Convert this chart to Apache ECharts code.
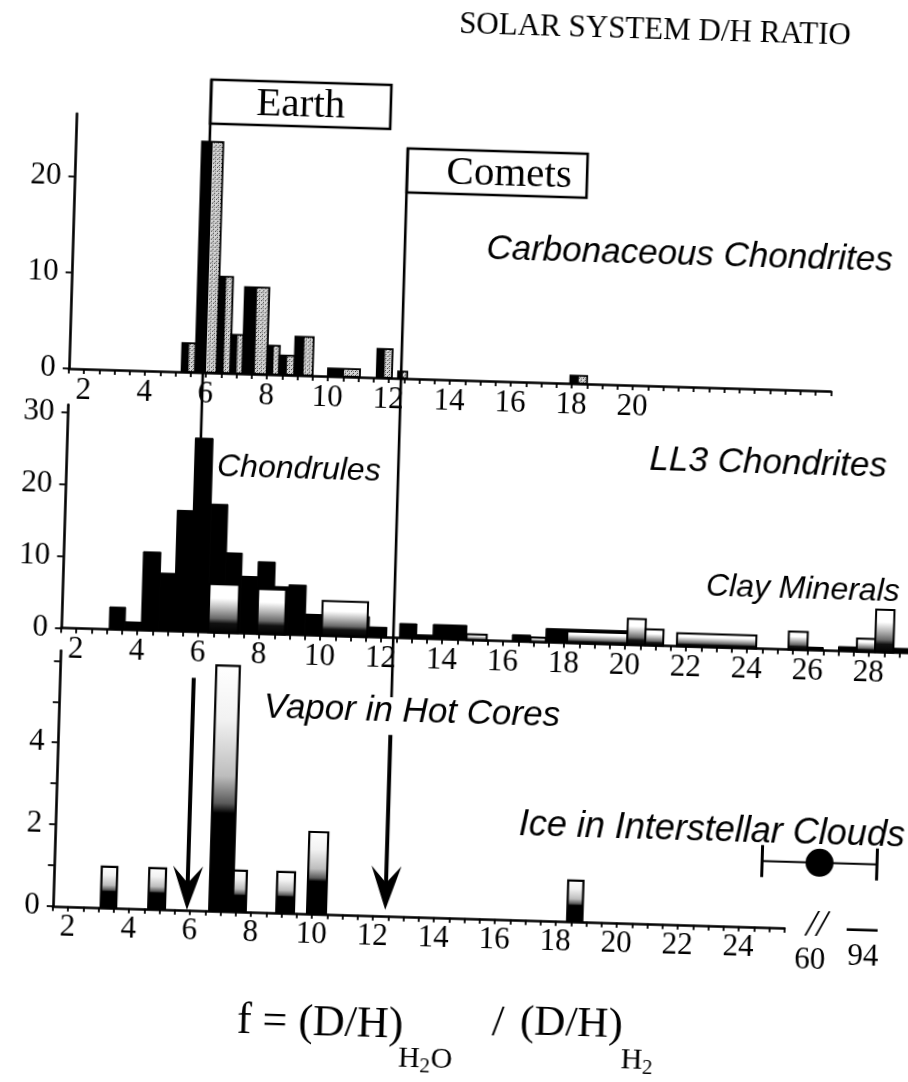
<!DOCTYPE html>
<html>
<head>
<meta charset="utf-8">
<title>Solar System D/H Ratio</title>
<script src="https://cdn.jsdelivr.net/npm/echarts@6/dist/echarts.min.js"></script>
<style>
  html, body { margin: 0; padding: 0; background: #fff; width: 908px; height: 1082px; overflow: hidden; }
  /* the drawing is slightly tilted, so the canvas is larger than the window and rotated about its centre */
  #chart { position: absolute; left: -30px; top: -30px; width: 968px; height: 1142px;
           transform: rotate(1.7deg); transform-origin: 50% 50%; }
</style>
</head>
<body>
<div id="chart"></div>
<script>
// ---------------- data: f = (D/H)H2O / (D/H)H2 ----------------
const earthF = 5.9;
const cometF = 12.4;

// Carbonaceous chondrites: bin start, bin end, count
const ccStart = [5.2, 5.65, 6.35, 6.8, 7.2, 8.0, 8.4, 8.9, 10.0, 11.6, 12.3, 17.95];
const ccEnd   = [5.65, 6.35, 6.8, 7.2, 8.0, 8.4, 8.9, 9.5, 11.05, 12.1, 12.6, 18.5];
const ccCount = [3, 24, 10, 4, 9, 3, 2, 4, 0.8, 3, 0.7, 0.8];

// LL3 chondrites: chondrules
const chStart = [3.08, 3.6, 4.13, 4.7, 5.2, 5.72, 6.3, 6.85, 7.37, 7.9, 8.46, 8.93, 9.5, 10.07, 11.6, 12.6, 13.16, 13.7, 16.3, 17.4, 25.98, 27.0, 28.8];
const chEnd   = [3.6, 4.13, 4.7, 5.2, 5.72, 6.3, 6.85, 7.37, 7.9, 8.46, 8.93, 9.5, 10.07, 11.6, 12.18, 13.16, 13.7, 14.8, 16.9, 20.1, 26.5, 27.6, 29.3];
const chCount = [3.1, 1.1, 10.9, 8.0, 16.8, 26.9, 17.8, 11.1, 7.9, 10.0, 6.6, 6.9, 2.9, 2.8, 1.4, 2.0, 0.5, 2.0, 0.9, 1.9, 0.4, 0.6, 0.6];

// LL3 chondrites: clay minerals
const clayStart = [6.33, 7.93, 10.05, 14.8, 16.9, 18.1, 20.07, 20.66, 21.7, 25.36, 27.6, 28.2];
const clayEnd   = [7.3, 8.84, 11.54, 15.46, 17.4, 20.07, 20.66, 21.25, 24.3, 25.98, 28.2, 28.8];
const clayCount = [6.7, 6.2, 4.8, 0.8, 0.6, 1.6, 3.6, 2.2, 1.8, 2.5, 1.8, 5.9];

// Vapor in hot cores
const vapStart = [3.07, 4.63, 6.63, 7.4, 8.83, 9.84, 18.37];
const vapEnd   = [3.58, 5.18, 7.4, 7.83, 9.41, 10.46, 18.87];
const vapCount = [1, 1, 6, 1, 1, 2, 1];

// Ice in interstellar clouds: range of f (broken part of the axis)
const iceLow = 60;
const iceHigh = 94;
const iceMid = 77;

// tick labels
const ccXLabels  = [2, 4, 6, 8, 10, 12, 14, 16, 18, 20];
const ll3XLabels = [2, 4, 6, 8, 10, 12, 14, 16, 18, 20, 22, 24, 26, 28];
const vapXLabels = [2, 4, 6, 8, 10, 12, 14, 16, 18, 20, 22, 24];
const ccYLabels  = [0, 10, 20];
const ll3YLabels = [0, 10, 20, 30];
const vapYTicks  = [0, 1, 2, 3, 4, 5, 6];
const vapYLabels = [0, 2, 4];
const breakLabels = ['60', '94'];

// ---------------- styling helpers ----------------
const SERIF = '"Liberation Serif","Times New Roman","DejaVu Serif",serif';
const SANS = '"Liberation Sans",Arial,"DejaVu Sans",sans-serif';
const TICK_FONT = 31;

const stipple = (() => {
  const c = document.createElement('canvas');
  c.width = 4; c.height = 4;
  const g = c.getContext('2d');
  g.fillStyle = '#d4d4d4'; g.fillRect(0, 0, 4, 4);
  g.fillStyle = '#3a3a3a'; g.fillRect(0, 0, 1, 1); g.fillRect(2, 2, 1, 1);
  g.fillStyle = '#8a8a8a'; g.fillRect(2, 0, 1, 1); g.fillRect(1, 3, 1, 1);
  return { image: c, repeat: 'repeat' };
})();

const clayFill = new echarts.graphic.LinearGradient(0, 0, 0, 1, [
  { offset: 0, color: '#ffffff' }, { offset: 0.3, color: '#ffffff' },
  { offset: 0.5, color: '#b8b8b8' }, { offset: 0.7, color: '#6a6a6a' },
  { offset: 0.8, color: '#111111' }, { offset: 1, color: '#000000' }
]);
const vapFill = new echarts.graphic.LinearGradient(0, 0, 0, 1, [
  { offset: 0, color: '#ffffff' }, { offset: 0.22, color: '#f2f2f2' },
  { offset: 0.45, color: '#bdbdbd' }, { offset: 0.56, color: '#5a5a5a' },
  { offset: 0.6, color: '#000000' }, { offset: 1, color: '#000000' }
]);

function near(list, v) { return list.some(l => Math.abs(l - v) < 1e-6); }

function fAxis(gridIndex, max, labels) {
  return {
    type: 'value', gridIndex, min: 1.5, max, interval: 0.5,
    axisLine: { show: true, onZero: false, lineStyle: { color: '#000', width: 2.6 } },
    axisTick: { show: true, inside: false, length: 5, lineStyle: { color: '#000', width: 1.8 } },
    splitLine: { show: false },
    axisLabel: {
      show: true, customValues: labels, margin: 6, color: '#000',
      fontFamily: SERIF, fontSize: TICK_FONT,
      formatter: v => near(labels, v) ? String(Math.round(v)) : ''
    }
  };
}

function countAxis(gridIndex, max, interval, ticks, labels) {
  return {
    type: 'value', gridIndex, min: 0, max, interval,
    axisLine: { show: true, onZero: false, lineStyle: { color: '#000', width: 2.6 } },
    axisTick: { show: true, inside: false, length: 6, customValues: ticks, lineStyle: { color: '#000', width: 1.8 } },
    splitLine: { show: false },
    axisLabel: {
      show: true, customValues: labels, margin: 13, color: '#000',
      fontFamily: SERIF, fontSize: TICK_FONT,
      formatter: v => near(labels, v) ? String(Math.round(v)) : ''
    }
  };
}

function binData(s, e, c) { return s.map((v, i) => [v, e[i], c[i]]); }

function binRect(api) {
  const a = api.coord([api.value(0), 0]);
  const b = api.coord([api.value(1), api.value(2)]);
  return { x: a[0], y: b[1], width: b[0] - a[0], height: a[1] - b[1] };
}

// ---------------- chart ----------------
const chart = echarts.init(document.getElementById('chart'), null, { renderer: 'canvas' });

const option = {
  animation: false,
  backgroundColor: '#fff',
  grid: [
    { left: 93.75, top: 155, width: 762.5, height: 254.9, outerBoundsMode: 'none', containLabel: false },
    { left: 93.75, top: 446.2, width: 854, height: 223.2, outerBoundsMode: 'none', containLabel: false },
    { left: 93.75, top: 692.2, width: 732, height: 255.6, outerBoundsMode: 'none', containLabel: false },
    { left: 801.5, top: 861.8, width: 114.9, height: 40, outerBoundsMode: 'none', containLabel: false }
  ],
  xAxis: [
    fAxis(0, 26.5, ccXLabels),
    fAxis(1, 29.5, ll3XLabels),
    fAxis(2, 25.5, vapXLabels),
    { type: 'value', gridIndex: 3, min: iceLow, max: iceHigh, show: false }
  ],
  yAxis: [
    countAxis(0, 26.5, 10, ccYLabels, ccYLabels),
    countAxis(1, 31, 10, ll3YLabels, ll3YLabels),
    countAxis(2, 6.25, 1, vapYTicks, vapYLabels),
    { type: 'value', gridIndex: 3, min: -1, max: 1, show: false }
  ],
  series: [
    {
      name: 'Carbonaceous Chondrites', type: 'custom', xAxisIndex: 0, yAxisIndex: 0,
      encode: { x: [0, 1], y: 2 },
      data: binData(ccStart, ccEnd, ccCount),
      renderItem: (params, api) => {
        const r = binRect(api);
        return {
          type: 'group', children: [
            { type: 'rect', shape: r, style: { fill: stipple, stroke: '#000', lineWidth: 1.8 } },
            { type: 'rect', shape: { x: r.x, y: r.y, width: r.width * 0.5, height: r.height }, style: { fill: '#000' } }
          ]
        };
      }
    },
    {
      name: 'Chondrules', type: 'custom', xAxisIndex: 1, yAxisIndex: 1,
      encode: { x: [0, 1], y: 2 },
      data: binData(chStart, chEnd, chCount),
      renderItem: (params, api) => ({
        type: 'rect', shape: binRect(api), style: { fill: '#000', stroke: '#000', lineWidth: 1 }
      })
    },
    {
      name: 'Clay Minerals', type: 'custom', xAxisIndex: 1, yAxisIndex: 1, z: 3,
      encode: { x: [0, 1], y: 2 },
      data: binData(clayStart, clayEnd, clayCount),
      renderItem: (params, api) => ({
        type: 'rect', shape: binRect(api), style: { fill: clayFill, stroke: '#000', lineWidth: 2 }
      })
    },
    {
      name: 'Vapor in Hot Cores', type: 'custom', xAxisIndex: 2, yAxisIndex: 2,
      encode: { x: [0, 1], y: 2 },
      data: binData(vapStart, vapEnd, vapCount),
      renderItem: (params, api) => ({
        type: 'rect', shape: binRect(api), style: { fill: vapFill, stroke: '#000', lineWidth: 2.2 }
      })
    },
    {
      name: 'Ice in Interstellar Clouds', type: 'custom', xAxisIndex: 3, yAxisIndex: 3,
      encode: { x: [0, 1, 2] },
      data: [[iceLow, iceHigh, iceMid]],
      renderItem: (params, api) => {
        const l = api.coord([api.value(0), 0]);
        const h = api.coord([api.value(1), 0]);
        const m = api.coord([api.value(2), 0]);
        return {
          type: 'group', children: [
            { type: 'line', shape: { x1: l[0], y1: l[1], x2: h[0], y2: h[1] }, style: { stroke: '#000', lineWidth: 2 } },
            { type: 'line', shape: { x1: l[0], y1: l[1] - 16, x2: l[0], y2: l[1] + 16 }, style: { stroke: '#000', lineWidth: 3 } },
            { type: 'line', shape: { x1: h[0], y1: h[1] - 16, x2: h[0], y2: h[1] + 16 }, style: { stroke: '#000', lineWidth: 3 } },
            { type: 'circle', shape: { cx: m[0], cy: m[1], r: 14 }, style: { fill: '#000' } }
          ]
        };
      }
    }
  ]
};
chart.setOption(option);

// ---------------- reference lines, boxes, labels ----------------
const X1 = v => chart.convertToPixel({ xAxisIndex: 0 }, v);
const X3 = v => chart.convertToPixel({ xAxisIndex: 2 }, v);
const Y2 = v => chart.convertToPixel({ yAxisIndex: 1 }, v);
const Y3 = v => chart.convertToPixel({ yAxisIndex: 2 }, v);

const peakIdx = chStart.findIndex((s, i) => earthF >= s && earthF < chEnd[i]);
const earthPeak = chCount[peakIdx];

const boxW = 180, boxH = 44;
const earthTop = 117, cometTop = 180;
const earthX = X1(earthF), cometX = X1(cometF);

function text(t, x, y, size, opts) {
  return {
    type: 'text', z: 100, x, y,
    style: Object.assign({
      text: t, fill: '#000', fontSize: size, fontFamily: SERIF,
      textAlign: 'center', textVerticalAlign: 'middle'
    }, opts || {})
  };
}
function italic(t, x, y, size, align) {
  return text(t, x, y, size, { fontFamily: SANS, fontStyle: 'italic', textAlign: align });
}
function vline(x, y1, y2, w) {
  return { type: 'line', z: 100, shape: { x1: x, y1, x2: x, y2 }, style: { stroke: '#000', lineWidth: w } };
}
function arrow(x, yTop, yTip) {
  return [
    vline(x, yTop, yTip - 20, 4),
    { type: 'polygon', z: 100, shape: { points: [[x - 15, yTip - 44], [x, yTip - 27], [x + 15, yTip - 44], [x, yTip]] },
      style: { fill: '#000' } }
  ];
}
// subscript such as H2O: letters at sub size, the digit smaller and lower
function subscript(parts, x, y) {
  const out = [];
  let cx = x;
  parts.forEach(p => {
    const isDigit = /\d/.test(p);
    const size = isDigit ? 21 : 30;
    out.push(text(p, cx, isDigit ? y + 7 : y, size, { textAlign: 'left' }));
    cx += isDigit ? 11 : 21.5;
  });
  return out;
}

const graphics = [
  text('SOLAR SYSTEM D/H RATIO', 669.8, 55, 31),

  // Earth marker
  { type: 'rect', z: 99, shape: { x: earthX, y: earthTop, width: boxW, height: boxH },
    style: { fill: '#fff', stroke: '#000', lineWidth: 2.6 } },
  text('Earth', earthX + boxW / 2, earthTop + boxH / 2 + 1, 41),
  vline(earthX, earthTop, Y2(earthPeak), 2.6),
  ...arrow(X3(earthF), Y3(5.68), Y3(0)),

  // Comets marker
  { type: 'rect', z: 99, shape: { x: cometX, y: cometTop, width: boxW, height: boxH },
    style: { fill: '#fff', stroke: '#000', lineWidth: 2.6 } },
  text('Comets', cometX + boxW / 2 + 12, cometTop + boxH / 2 + 1, 41),
  vline(cometX, cometTop, Y3(5.35), 2.6),
  ...arrow(X3(cometF), Y3(4.43), Y3(0.15)),

  // panel labels
  italic('Carbonaceous Chondrites', 914.3, 278.2, 35, 'right'),
  italic('LL3 Chondrites', 914.5, 484.6, 35, 'right'),
  italic('Chondrules', 245, 503.6, 32, 'left'),
  italic('Clay Minerals', 931, 608.7, 32, 'right'),
  italic('Vapor in Hot Cores', 447, 743.2, 35, 'center'),
  italic('Ice in Interstellar Clouds', 943.4, 853.2, 36, 'right'),

  // broken axis
  text('//', 858, 945, 38, { fontStyle: 'italic' }),
  { type: 'line', z: 100, shape: { x1: 888, y1: 947.7, x2: 919, y2: 947.7 }, style: { stroke: '#000', lineWidth: 2.6 } },
  text(breakLabels[0], 852, 980, TICK_FONT),
  text(breakLabels[1], 905, 975, TICK_FONT),

  // x-axis quantity
  text('f = (D/H)', 281.2, 1057, 44, { textAlign: 'left' }),
  ...subscript(['H', '2', 'O'], 443.4, 1090),
  text('/', 542.4, 1052.5, 44),
  text('(D/H)', 564.3, 1050.8, 43, { textAlign: 'left' }),
  ...subscript(['H', '2'], 666, 1085)
];

chart.setOption({ graphic: graphics });
</script>
</body>
</html>
